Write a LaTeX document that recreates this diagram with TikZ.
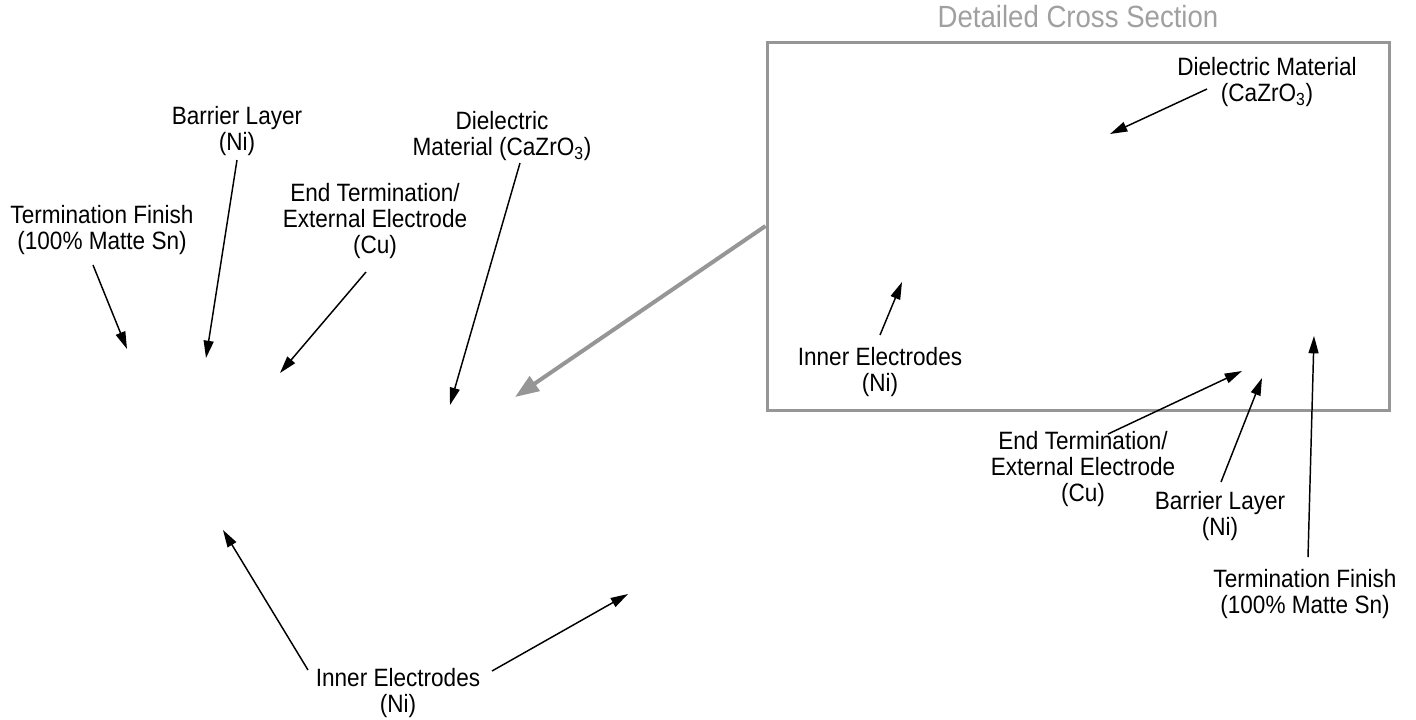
\documentclass[tikz,border=0pt]{standalone}
\usepackage{fontspec}
\setmainfont{Liberation Sans}[FakeStretch=0.9]
\usepackage{tikz}
\usetikzlibrary{arrows.meta,calc}
\definecolor{detailgray}{RGB}{150,150,150}
\definecolor{titlegray}{RGB}{160,160,160}

\begin{document}
\begin{tikzpicture}[x=0.75pt,y=-0.75pt,
  callout/.style={align=center,inner sep=1pt,font=\fontsize{18.8}{19.5}\selectfont},
  pointer/.style={line width=1.1pt,-{Triangle[length=13pt,width=7.5pt]}},
  zoomline/.style={draw=detailgray,line width=3pt,-{Triangle[length=18pt,width=13pt]}}]
\useasboundingbox (0,0) rectangle (1416,719);
% whole part
\node [callout] (finishL) at (102,230) {Termination Finish\\(100\% Matte Sn)};
\node [callout] (barrierL) at (237,131) {Barrier Layer\\(Ni)};
\node [callout] (endL) at (375,221) {End Termination/\\External Electrode\\(Cu)};
\node [callout] (dielL) at (502,136) {Dielectric\\Material (CaZrO\textsubscript{3})};
\node [callout] (innerL) at (398,693) {Inner Electrodes\\(Ni)};
\coordinate (finishLtip) at (127,349);
\coordinate (barrierLtip) at (206,358);
\coordinate (endLtip) at (280,373);
\coordinate (dielLtip) at (450,405);
\coordinate (innerLtipA) at (223,530);
\coordinate (innerLtipB) at (628,594);
\draw [pointer] ($(finishL)+(-9,35)$) -- (finishLtip);
\draw [pointer] ($(barrierL)+(0,29)$) -- (barrierLtip);
\draw [pointer] ($(endL)+(-9,51)$) -- (endLtip);
\draw [pointer] ($(dielL)+(18,27)$) -- (dielLtip);
\draw [pointer] ($(innerL)+(-90,-23)$) -- (innerLtipA);
\draw [pointer] ($(innerL)+(94,-22)$) -- (innerLtipB);
% detailed cross section
\node [draw=detailgray,line width=2.25pt,inner sep=0pt,minimum width=466.5pt,minimum height=276pt] (detail) at (1078,226) {};
\node [text=titlegray,font=\fontsize{23}{26}\selectfont] (title) at (1078,17) {Detailed Cross Section};
\coordinate (zoomtip) at (515,397);
\draw [zoomline] (detail.west) -- (zoomtip);
\node [callout] (dielR) at (1267,82) {Dielectric Material\\(CaZrO\textsubscript{3})};
\node [callout] (innerR) at (880,372) {Inner Electrodes\\(Ni)};
\node [callout] (endR) at (1083,469) {End Termination/\\External Electrode\\(Cu)};
\node [callout] (barrierR) at (1220,516) {Barrier Layer\\(Ni)};
\node [callout] (finishR) at (1305,594) {Termination Finish\\(100\% Matte Sn)};
\coordinate (dielRtip) at (1110,134);
\coordinate (innerRtip) at (902,282);
\coordinate (endRtip) at (1242,371);
\coordinate (barrierRtip) at (1262,378);
\coordinate (finishRtip) at (1314,336);
\draw [pointer] ($(dielR)+(-60,7)$) -- (dielRtip);
\draw [pointer] ($(innerR)+(0,-37)$) -- (innerRtip);
\draw [pointer] ($(endR)+(25,-35)$) -- (endRtip);
\draw [pointer] ($(barrierR)+(1,-34)$) -- (barrierRtip);
\draw [pointer] ($(finishR)+(3,-37)$) -- (finishRtip);
\end{tikzpicture}
\end{document}
